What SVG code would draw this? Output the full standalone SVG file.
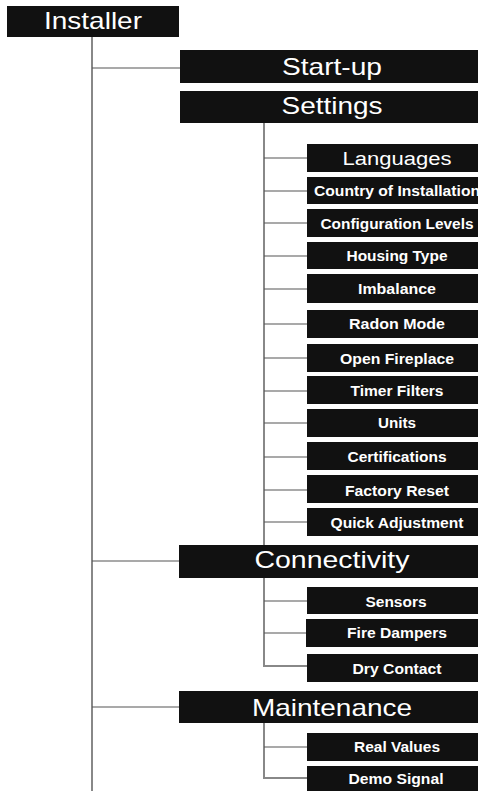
<svg xmlns="http://www.w3.org/2000/svg" width="478" height="791" viewBox="0 0 478 791">
<style>
.box{fill:#111}
.t1{font-family:"Liberation Sans",Arial,sans-serif;font-size:24px;fill:#fff;text-anchor:middle}
.t2{font-family:"Liberation Sans",Arial,sans-serif;font-size:14px;font-weight:bold;fill:#fff;text-anchor:middle}
.t3{font-family:"Liberation Sans",Arial,sans-serif;font-size:18px;fill:#fff;text-anchor:middle}
.v{stroke:#888;stroke-width:2;fill:none}
.h{stroke:#555;stroke-width:1.2;fill:none}
</style>
<g id="connectors">
<path class="v" d="M92 37V791"/>
<path class="h" d="M92 68H180M92 561H180M92 707H180"/>
<path class="v" d="M264 123V545"/>
<path class="h" d="M264 158H307M264 191H307M264 223H307M264 256H307M264 289H307M264 324H307M264 358H307M264 391H307M264 423H307M264 457H307M264 490H307M264 522H307"/>
<path class="v" d="M264 578V666H307"/>
<path class="h" d="M264 601H307M264 633H307"/>
<path class="v" d="M264 723V778H307"/>
<path class="h" d="M264 747H307"/>
</g>
<g id="installer"><rect class="box" x="7" y="6" width="172" height="31"/><text class="t1" x="93" y="29" textLength="98" lengthAdjust="spacingAndGlyphs">Installer</text></g>
<g id="startup"><rect class="box" x="180" y="50" width="298" height="33"/><text class="t1" x="332" y="75" textLength="100" lengthAdjust="spacingAndGlyphs">Start-up</text></g>
<g id="settings"><rect class="box" x="180" y="91" width="298" height="32"/><text class="t1" x="332" y="114" textLength="101" lengthAdjust="spacingAndGlyphs">Settings</text></g>
<g id="languages"><rect class="box" x="307" y="144" width="171" height="28"/><text class="t3" x="397" y="165" textLength="109" lengthAdjust="spacingAndGlyphs">Languages</text></g>
<g id="country"><rect class="box" x="307" y="177" width="171" height="27"/><text class="t2" x="397" y="196" textLength="166" lengthAdjust="spacingAndGlyphs">Country of Installation</text></g>
<g id="config"><rect class="box" x="307" y="209" width="171" height="28"/><text class="t2" x="397" y="229" textLength="153" lengthAdjust="spacingAndGlyphs">Configuration Levels</text></g>
<g id="housing"><rect class="box" x="307" y="242" width="171" height="27"/><text class="t2" x="397" y="261" textLength="101" lengthAdjust="spacingAndGlyphs">Housing Type</text></g>
<g id="imbalance"><rect class="box" x="307" y="274" width="171" height="29"/><text class="t2" x="397" y="294" textLength="78" lengthAdjust="spacingAndGlyphs">Imbalance</text></g>
<g id="radon"><rect class="box" x="307" y="310" width="171" height="28"/><text class="t2" x="397" y="329" textLength="96" lengthAdjust="spacingAndGlyphs">Radon Mode</text></g>
<g id="fireplace"><rect class="box" x="307" y="344" width="171" height="28"/><text class="t2" x="397" y="364" textLength="114" lengthAdjust="spacingAndGlyphs">Open Fireplace</text></g>
<g id="timer"><rect class="box" x="307" y="376" width="171" height="28"/><text class="t2" x="397" y="396" textLength="93" lengthAdjust="spacingAndGlyphs">Timer Filters</text></g>
<g id="units"><rect class="box" x="307" y="409" width="171" height="28"/><text class="t2" x="397" y="428" textLength="38" lengthAdjust="spacingAndGlyphs">Units</text></g>
<g id="certifications"><rect class="box" x="307" y="442" width="171" height="28"/><text class="t2" x="397" y="462" textLength="99" lengthAdjust="spacingAndGlyphs">Certifications</text></g>
<g id="factory"><rect class="box" x="307" y="475" width="171" height="28"/><text class="t2" x="397" y="496" textLength="104" lengthAdjust="spacingAndGlyphs">Factory Reset</text></g>
<g id="quick"><rect class="box" x="307" y="508" width="171" height="28"/><text class="t2" x="397" y="528" textLength="133" lengthAdjust="spacingAndGlyphs">Quick Adjustment</text></g>
<g id="connectivity"><rect class="box" x="179" y="545" width="299" height="33"/><text class="t1" x="332" y="568" textLength="155" lengthAdjust="spacingAndGlyphs">Connectivity</text></g>
<g id="sensors"><rect class="box" x="307" y="587" width="171" height="27"/><text class="t2" x="396" y="607" textLength="61" lengthAdjust="spacingAndGlyphs">Sensors</text></g>
<g id="dampers"><rect class="box" x="306" y="619" width="172" height="28"/><text class="t2" x="397" y="638" textLength="100" lengthAdjust="spacingAndGlyphs">Fire Dampers</text></g>
<g id="drycontact"><rect class="box" x="307" y="654" width="171" height="28"/><text class="t2" x="397" y="674" textLength="89" lengthAdjust="spacingAndGlyphs">Dry Contact</text></g>
<g id="maintenance"><rect class="box" x="179" y="691" width="299" height="32"/><text class="t1" x="332" y="716" textLength="160" lengthAdjust="spacingAndGlyphs">Maintenance</text></g>
<g id="realvalues"><rect class="box" x="307" y="733" width="171" height="28"/><text class="t2" x="397" y="752" textLength="86" lengthAdjust="spacingAndGlyphs">Real Values</text></g>
<g id="demosignal"><rect class="box" x="307" y="766" width="171" height="25"/><text class="t2" x="396" y="784" textLength="95" lengthAdjust="spacingAndGlyphs">Demo Signal</text></g>
</svg>
